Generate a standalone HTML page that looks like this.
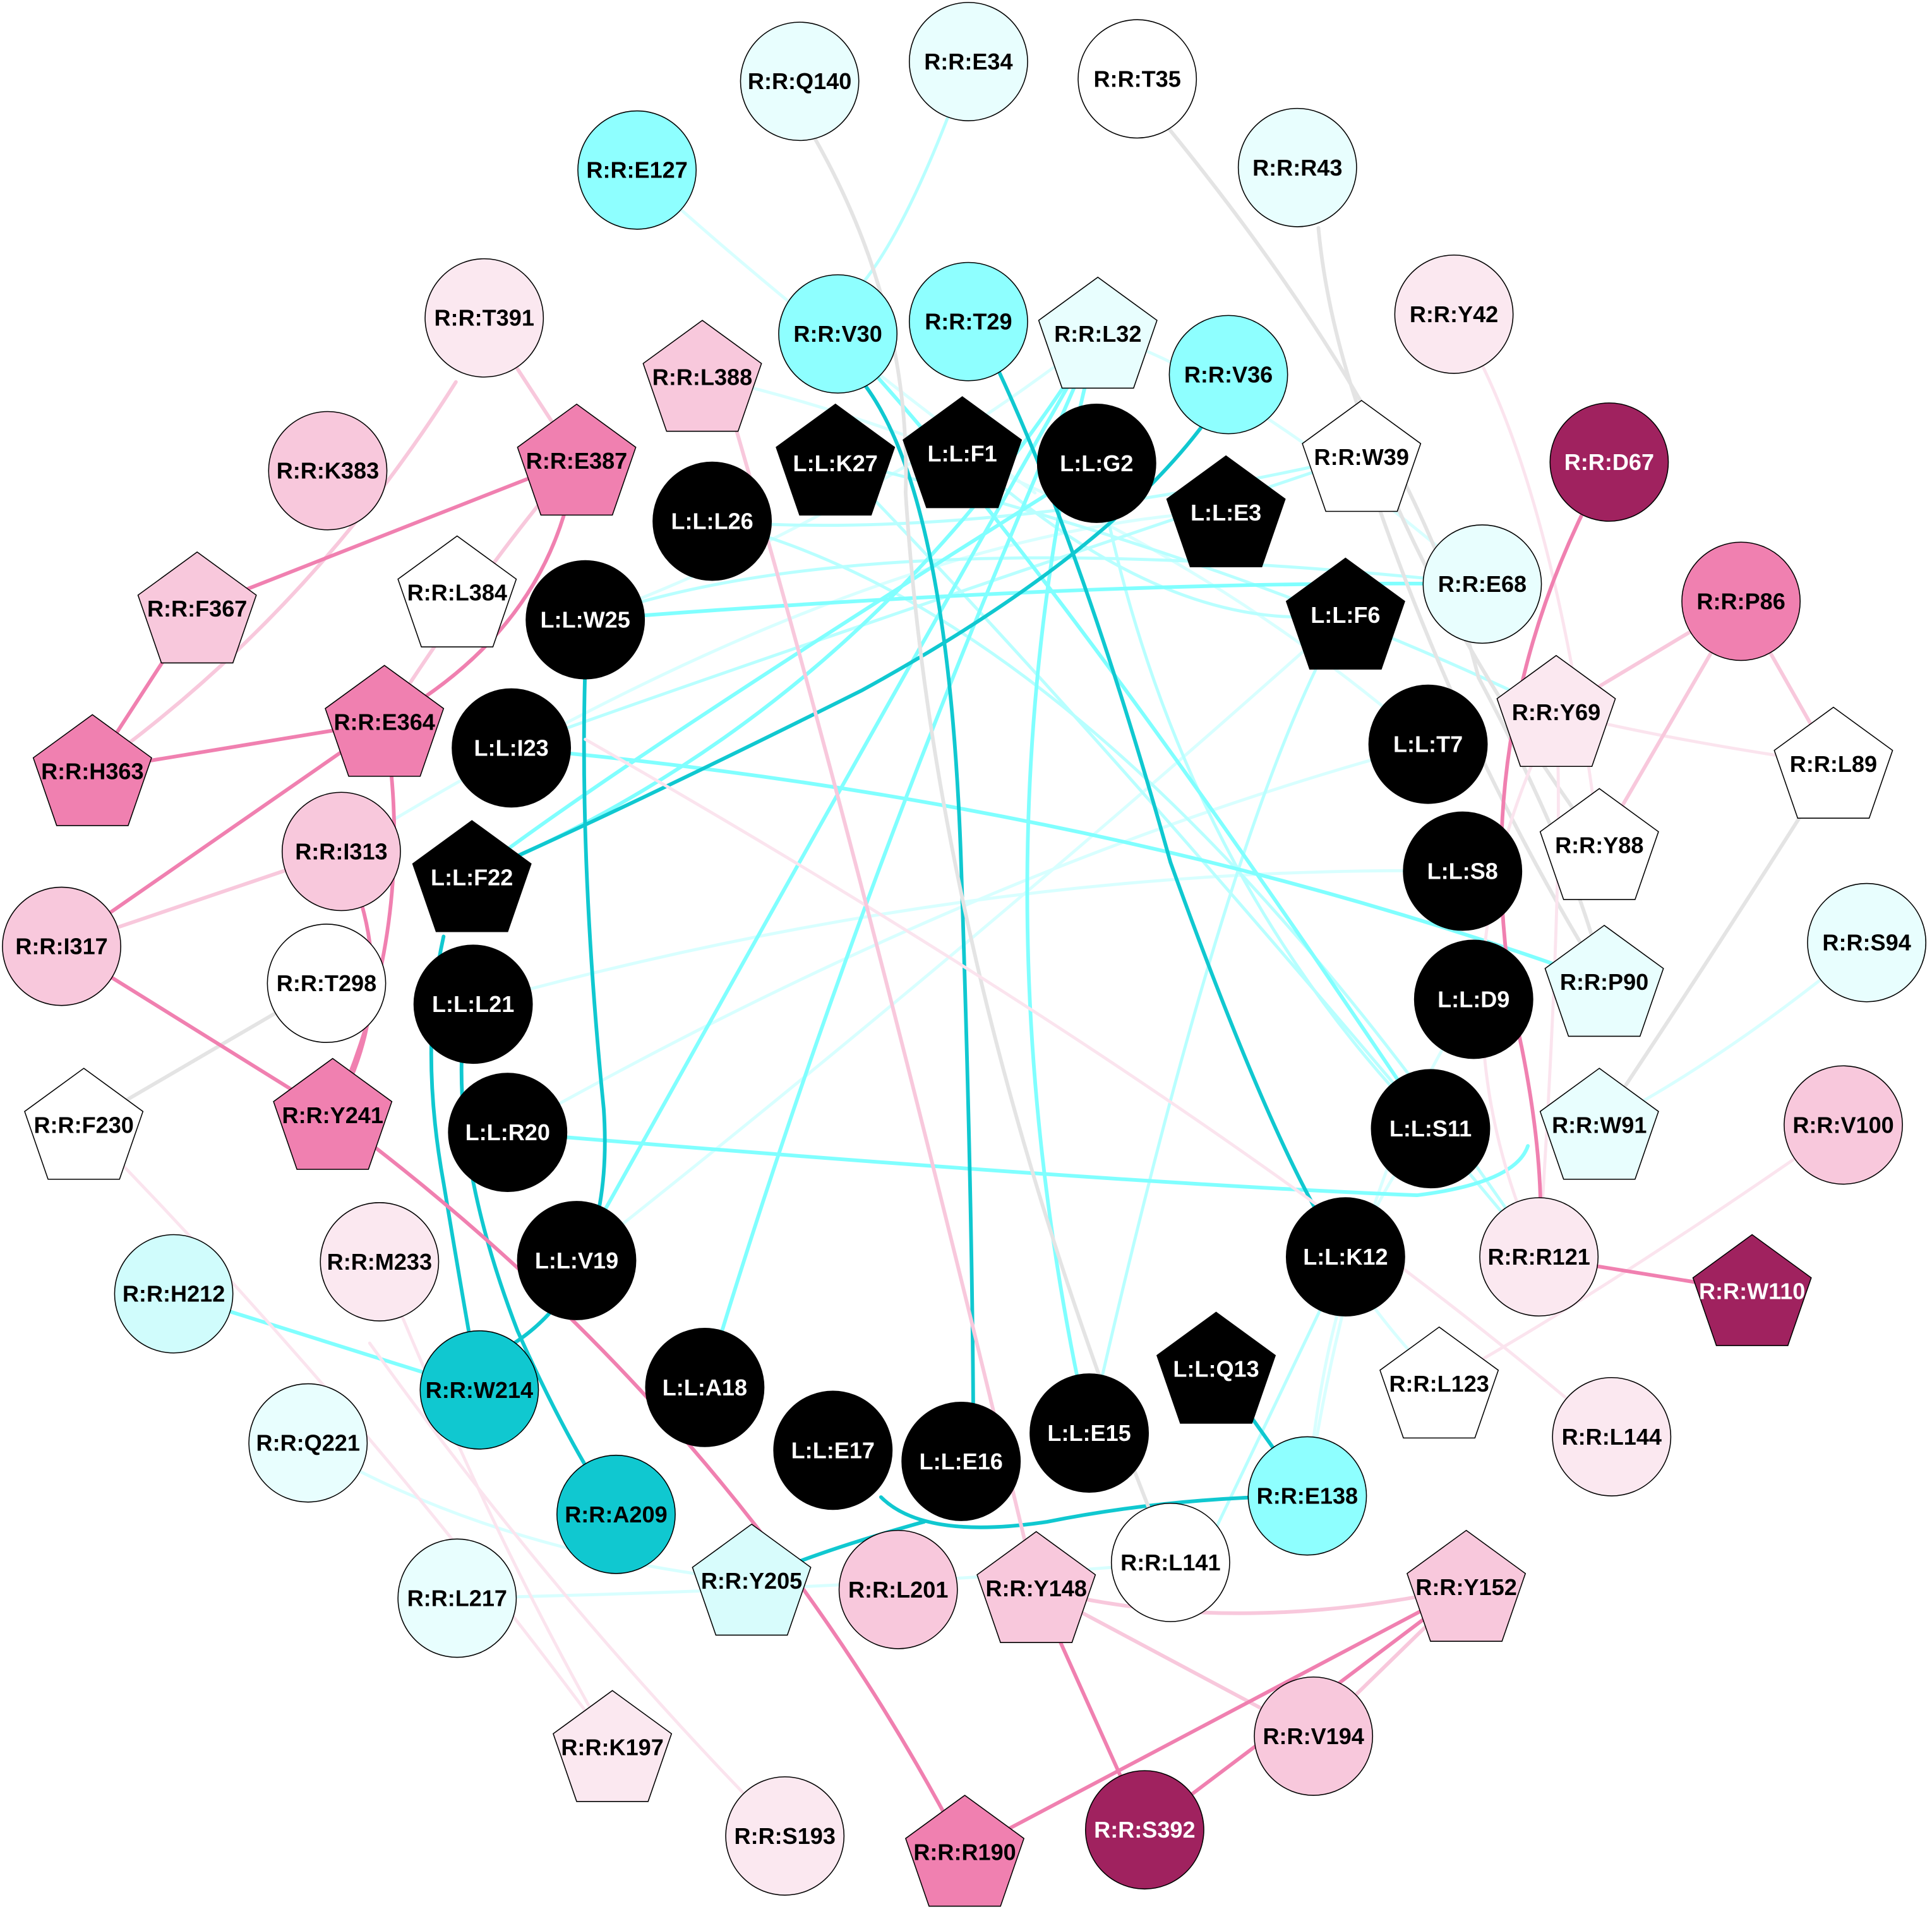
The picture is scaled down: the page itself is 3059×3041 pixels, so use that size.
<!DOCTYPE html>
<html><head><meta charset="utf-8"><style>html,body{margin:0;padding:0;background:#fff}svg{display:block}</style></head>
<body>
<svg width="3059" height="3041" viewBox="0 0 1568 1559" preserveAspectRatio="none" xmlns="http://www.w3.org/2000/svg" font-family="'Liberation Sans',Arial,sans-serif" font-weight="bold" font-size="18.5">
<g fill="none" stroke-linecap="round">
<g stroke="#d8ffff" stroke-width="2.5">
<path d="M517 138 Q650 260 840 400"/>
<path d="M891 271 Q1000 300 1203 474"/>
<path d="M570 305 Q900 380 1159 604"/>
<path d="M1515 765 Q1400 860 1298 913"/>
<path d="M250 1171 Q400 1260 610 1283"/>
<path d="M371 1297 Q700 1290 950 1268"/>
<path d="M1196 811 Q1100 950 1061 1214"/>
<path d="M1161 916 Q1080 1000 1061 1214"/>
<path d="M384 815 Q800 700 1187 707"/>
<path d="M412 919 Q800 700 1159 604"/>
<path d="M468 1023 Q800 760 1092 498"/>
<path d="M1168 1123 Q1100 1050 1092 1020"/>
<path d="M277 691 Q700 430 995 415"/>
<path d="M475 503 Q700 420 891 271"/>
</g>
<g stroke="#b8ffff" stroke-width="2.5">
<path d="M786 50 Q740 180 700 230"/>
<path d="M578 423 Q800 440 1105 370"/>
<path d="M578 423 Q900 500 1249 1020"/>
<path d="M678 373 Q900 600 1249 1020"/>
<path d="M475 503 Q700 420 1203 474"/>
<path d="M678 373 Q1000 450 1263 578"/>
<path d="M781 367 Q950 520 1092 498"/>
<path d="M890 376 Q950 700 1161 916"/>
<path d="M1092 498 Q1000 650 884 1163"/>
<path d="M1092 1020 Q1030 1150 987 1240"/>
<path d="M415 607 Q600 540 1105 370"/>
</g>
<g stroke="#80ffff" stroke-width="3">
<path d="M475 503 Q900 470 1203 474"/>
<path d="M415 607 Q900 650 1302 797"/>
<path d="M412 919 Q900 960 1150 970 Q1230 960 1240 930"/>
<path d="M389 1128 L141 1050"/>
<path d="M891 271 Q760 500 468 1023"/>
<path d="M891 271 Q700 580 383 711"/>
<path d="M891 271 Q700 700 572 1126"/>
<path d="M891 271 Q780 700 884 1163"/>
<path d="M890 376 Q500 620 383 711"/>
<path d="M680 271 Q850 450 1161 916"/>
</g>
<g stroke="#10c8d0" stroke-width="3">
<path d="M700 310 Q770 400 780 700 Q790 1000 790 1186"/>
<path d="M810 300 Q880 450 950 700 Q1040 950 1092 1020"/>
<path d="M980 340 Q900 450 700 560 Q500 660 383 711"/>
<path d="M475 540 Q470 700 490 900 Q500 1050 400 1100"/>
<path d="M360 760 Q340 850 360 960 Q380 1080 389 1128"/>
<path d="M375 850 Q370 950 420 1080 Q460 1170 500 1229"/>
<path d="M715 1215 Q750 1250 850 1235 Q950 1215 1061 1214"/>
<path d="M987 1110 L1061 1214"/>
<path d="M610 1283 Q660 1260 750 1235"/>
</g>
<g stroke="#e4e4e4" stroke-width="3">
<path d="M660 110 Q740 250 735 400 Q760 800 950 1268"/>
<path d="M945 100 Q1150 350 1200 550 Q1280 700 1302 797"/>
<path d="M1070 185 Q1090 400 1298 686"/>
<path d="M265 798 L68 913"/>
<path d="M1488 620 Q1400 760 1298 913"/>
<path d="M1105 370 Q1180 600 1302 797"/>
</g>
<g stroke="#fbe4ee" stroke-width="2.5">
<path d="M1180 255 Q1260 380 1298 686"/>
<path d="M1249 1020 Q1270 700 1263 578"/>
<path d="M1308 1166 Q1000 900 475 600"/>
<path d="M308 1024 Q400 1250 497 1418"/>
<path d="M68 913 Q300 1150 497 1418"/>
<path d="M637 1490 Q450 1300 300 1090"/>
<path d="M1488 620 Q1350 600 1263 578"/>
<path d="M1496 913 Q1300 1050 1168 1123"/>
<path d="M1263 578 Q1150 800 1249 1020"/>
</g>
<g stroke="#f8c8dc" stroke-width="3">
<path d="M595 340 Q700 700 841 1289"/>
<path d="M393 258 L468 373"/>
<path d="M370 310 Q250 500 75 625"/>
<path d="M841 1289 Q1000 1330 1190 1288"/>
<path d="M841 1289 L1066 1409"/>
<path d="M1190 1288 L1066 1409"/>
<path d="M1413 488 L1263 578"/>
<path d="M1413 488 L1298 686"/>
<path d="M1413 488 L1488 620"/>
<path d="M277 691 L50 768"/>
<path d="M468 373 Q400 450 312 586"/>
</g>
<g stroke="#f080b0" stroke-width="3">
<path d="M468 373 L160 494"/>
<path d="M160 494 L75 625"/>
<path d="M75 625 L312 586"/>
<path d="M460 410 Q430 520 312 586"/>
<path d="M312 586 L50 768"/>
<path d="M312 586 Q340 750 270 905"/>
<path d="M277 691 Q330 800 270 905"/>
<path d="M50 768 L270 905"/>
<path d="M270 905 Q600 1150 783 1503"/>
<path d="M1306 375 Q1180 600 1235 850 Q1255 950 1249 1020"/>
<path d="M1249 1020 L1422 1048"/>
<path d="M841 1289 L929 1485"/>
<path d="M1190 1288 L783 1503"/>
<path d="M1190 1288 L929 1485"/>
</g>
</g>
<g stroke="#000" stroke-width="0.8">
<circle cx="649" cy="66" r="48" fill="#e8fefe"/>
<circle cx="786" cy="50" r="48" fill="#e8fefe"/>
<circle cx="923" cy="64" r="48" fill="#fff"/>
<circle cx="517" cy="138" r="48" fill="#8effff"/>
<circle cx="1053" cy="136" r="48" fill="#e8fefe"/>
<circle cx="393" cy="258" r="48" fill="#fbe8f0"/>
<circle cx="1180" cy="255" r="48" fill="#fbe8f0"/>
<circle cx="680" cy="271" r="48" fill="#8effff"/>
<circle cx="786" cy="261" r="48" fill="#8effff"/>
<circle cx="997" cy="304" r="48" fill="#8effff"/>
<circle cx="266" cy="382" r="48" fill="#f8c8dc"/>
<circle cx="1306" cy="375" r="48" fill="#a0225f"/>
<circle cx="1203" cy="474" r="48" fill="#e8fefe"/>
<circle cx="1413" cy="488" r="48" fill="#f080b0"/>
<circle cx="277" cy="691" r="48" fill="#f8c8dc"/>
<circle cx="50" cy="768" r="48" fill="#f8c8dc"/>
<circle cx="265" cy="798" r="48" fill="#fff"/>
<circle cx="1515" cy="765" r="48" fill="#e8fefe"/>
<circle cx="1496" cy="913" r="48" fill="#f8c8dc"/>
<circle cx="141" cy="1050" r="48" fill="#d0fcfc"/>
<circle cx="308" cy="1024" r="48" fill="#fbe8f0"/>
<circle cx="1249" cy="1020" r="48" fill="#fbe8f0"/>
<circle cx="250" cy="1171" r="48" fill="#e8fefe"/>
<circle cx="389" cy="1128" r="48" fill="#10c8d0"/>
<circle cx="500" cy="1229" r="48" fill="#10c8d0"/>
<circle cx="371" cy="1297" r="48" fill="#e8fefe"/>
<circle cx="729" cy="1290" r="48" fill="#f8c8dc"/>
<circle cx="1061" cy="1214" r="48" fill="#8effff"/>
<circle cx="950" cy="1268" r="48" fill="#fff"/>
<circle cx="1308" cy="1166" r="48" fill="#fbe8f0"/>
<circle cx="1066" cy="1409" r="48" fill="#f8c8dc"/>
<circle cx="637" cy="1490" r="48" fill="#fbe8f0"/>
<circle cx="929" cy="1485" r="48" fill="#a0225f"/>
<g fill="#000">
<circle cx="890" cy="376" r="48"/><circle cx="578" cy="423" r="48"/><circle cx="475" cy="503" r="48"/>
<circle cx="415" cy="607" r="48"/><circle cx="1159" cy="604" r="48"/><circle cx="1187" cy="707" r="48"/>
<circle cx="1196" cy="811" r="48"/><circle cx="384" cy="815" r="48"/><circle cx="1161" cy="916" r="48"/>
<circle cx="412" cy="919" r="48"/><circle cx="468" cy="1023" r="48"/><circle cx="1092" cy="1020" r="48"/>
<circle cx="572" cy="1126" r="48"/><circle cx="676" cy="1177" r="48"/><circle cx="780" cy="1186" r="48"/>
<circle cx="884" cy="1163" r="48"/>
</g>
</g>
<g stroke="#000" stroke-width="0.8">
<polygon transform="translate(570,310)" points="0,-50 48,-15 29,40 -29,40 -48,-15" fill="#f8c8dc"/>
<polygon transform="translate(891,275)" points="0,-50 48,-15 29,40 -29,40 -48,-15" fill="#e8fefe"/>
<polygon transform="translate(468,378)" points="0,-50 48,-15 29,40 -29,40 -48,-15" fill="#f080b0"/>
<polygon transform="translate(1105,375)" points="0,-50 48,-15 29,40 -29,40 -48,-15" fill="#fff"/>
<polygon transform="translate(160,498)" points="0,-50 48,-15 29,40 -29,40 -48,-15" fill="#f8c8dc"/>
<polygon transform="translate(371,485)" points="0,-50 48,-15 29,40 -29,40 -48,-15" fill="#fff"/>
<polygon transform="translate(312,590)" points="0,-50 48,-15 29,40 -29,40 -48,-15" fill="#f080b0"/>
<polygon transform="translate(75,630)" points="0,-50 48,-15 29,40 -29,40 -48,-15" fill="#f080b0"/>
<polygon transform="translate(1263,582)" points="0,-50 48,-15 29,40 -29,40 -48,-15" fill="#fbe8f0"/>
<polygon transform="translate(1488,624)" points="0,-50 48,-15 29,40 -29,40 -48,-15" fill="#fff"/>
<polygon transform="translate(1298,690)" points="0,-50 48,-15 29,40 -29,40 -48,-15" fill="#fff"/>
<polygon transform="translate(1302,801)" points="0,-50 48,-15 29,40 -29,40 -48,-15" fill="#e8fefe"/>
<polygon transform="translate(68,917)" points="0,-50 48,-15 29,40 -29,40 -48,-15" fill="#fff"/>
<polygon transform="translate(270,909)" points="0,-50 48,-15 29,40 -29,40 -48,-15" fill="#f080b0"/>
<polygon transform="translate(1298,917)" points="0,-50 48,-15 29,40 -29,40 -48,-15" fill="#e8fefe"/>
<polygon transform="translate(1422,1052)" points="0,-50 48,-15 29,40 -29,40 -48,-15" fill="#a0225f"/>
<polygon transform="translate(1168,1127)" points="0,-50 48,-15 29,40 -29,40 -48,-15" fill="#fff"/>
<polygon transform="translate(610,1287)" points="0,-50 48,-15 29,40 -29,40 -48,-15" fill="#d8fcfc"/>
<polygon transform="translate(841,1293)" points="0,-50 48,-15 29,40 -29,40 -48,-15" fill="#f8c8dc"/>
<polygon transform="translate(1190,1292)" points="0,-50 48,-15 29,40 -29,40 -48,-15" fill="#f8c8dc"/>
<polygon transform="translate(497,1422)" points="0,-50 48,-15 29,40 -29,40 -48,-15" fill="#fbe8f0"/>
<polygon transform="translate(783,1507)" points="0,-50 48,-15 29,40 -29,40 -48,-15" fill="#f080b0"/>
<g fill="#000">
<polygon transform="translate(678,378)" points="0,-50 48,-15 29,40 -29,40 -48,-15"/>
<polygon transform="translate(781,372)" points="0,-50 48,-15 29,40 -29,40 -48,-15"/>
<polygon transform="translate(995,420)" points="0,-50 48,-15 29,40 -29,40 -48,-15"/>
<polygon transform="translate(1092,503)" points="0,-50 48,-15 29,40 -29,40 -48,-15"/>
<polygon transform="translate(383,716)" points="0,-50 48,-15 29,40 -29,40 -48,-15"/>
<polygon transform="translate(987,1115)" points="0,-50 48,-15 29,40 -29,40 -48,-15"/>
</g>
</g>
<g text-anchor="middle" dominant-baseline="central" fill="#000">
<text x="649" y="66">R:R:Q140</text><text x="786" y="50">R:R:E34</text><text x="923" y="64">R:R:T35</text>
<text x="517" y="138">R:R:E127</text><text x="1053" y="136">R:R:R43</text><text x="393" y="258">R:R:T391</text>
<text x="1180" y="255">R:R:Y42</text><text x="680" y="271">R:R:V30</text><text x="786" y="261">R:R:T29</text>
<text x="997" y="304">R:R:V36</text><text x="266" y="382">R:R:K383</text>
<text x="1203" y="474">R:R:E68</text><text x="1413" y="488">R:R:P86</text><text x="277" y="691">R:R:I313</text>
<text x="50" y="768">R:R:I317</text><text x="265" y="798">R:R:T298</text><text x="1515" y="765">R:R:S94</text>
<text x="1496" y="913">R:R:V100</text><text x="141" y="1050">R:R:H212</text><text x="308" y="1024">R:R:M233</text>
<text x="1249" y="1020">R:R:R121</text><text x="250" y="1171">R:R:Q221</text><text x="389" y="1128">R:R:W214</text>
<text x="500" y="1229">R:R:A209</text><text x="371" y="1297">R:R:L217</text><text x="729" y="1290">R:R:L201</text>
<text x="1061" y="1214">R:R:E138</text><text x="950" y="1268">R:R:L141</text><text x="1308" y="1166">R:R:L144</text>
<text x="1066" y="1409">R:R:V194</text><text x="637" y="1490">R:R:S193</text>
<text x="570" y="306">R:R:L388</text><text x="891" y="271">R:R:L32</text><text x="468" y="374">R:R:E387</text>
<text x="1105" y="371">R:R:W39</text><text x="160" y="494">R:R:F367</text><text x="371" y="481">R:R:L384</text>
<text x="312" y="586">R:R:E364</text><text x="75" y="626">R:R:H363</text><text x="1263" y="578">R:R:Y69</text>
<text x="1488" y="620">R:R:L89</text><text x="1298" y="686">R:R:Y88</text><text x="1302" y="797">R:R:P90</text>
<text x="68" y="913">R:R:F230</text><text x="270" y="905">R:R:Y241</text><text x="1298" y="913">R:R:W91</text>
<text x="1168" y="1123">R:R:L123</text><text x="610" y="1283">R:R:Y205</text><text x="841" y="1289">R:R:Y148</text>
<text x="1190" y="1288">R:R:Y152</text><text x="497" y="1418">R:R:K197</text><text x="783" y="1503">R:R:R190</text>
</g>
<g text-anchor="middle" dominant-baseline="central" fill="#fff">
<text x="1306" y="375">R:R:D67</text><text x="929" y="1485">R:R:S392</text><text x="1422" y="1048">R:R:W110</text>
<text x="890" y="376">L:L:G2</text><text x="578" y="423">L:L:L26</text><text x="475" y="503">L:L:W25</text>
<text x="415" y="607">L:L:I23</text><text x="1159" y="604">L:L:T7</text><text x="1187" y="707">L:L:S8</text>
<text x="1196" y="811">L:L:D9</text><text x="384" y="815">L:L:L21</text><text x="1161" y="916">L:L:S11</text>
<text x="412" y="919">L:L:R20</text><text x="468" y="1023">L:L:V19</text><text x="1092" y="1020">L:L:K12</text>
<text x="572" y="1126">L:L:A18</text><text x="676" y="1177">L:L:E17</text><text x="780" y="1186">L:L:E16</text>
<text x="884" y="1163">L:L:E15</text>
<text x="678" y="376">L:L:K27</text><text x="781" y="368">L:L:F1</text><text x="995" y="416">L:L:E3</text>
<text x="1092" y="499">L:L:F6</text><text x="383" y="712">L:L:F22</text><text x="987" y="1111">L:L:Q13</text>
</g>
</svg>
</body></html>
